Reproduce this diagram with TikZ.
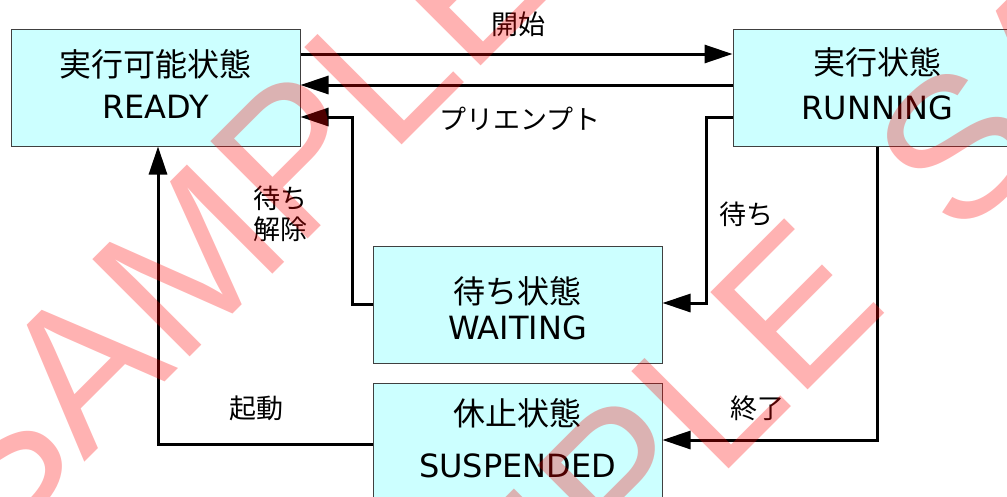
\documentclass[tikz,border=0pt]{standalone}
\usepackage{fontspec}
\setmainfont{DejaVu Sans}
\newfontfamily\jpfont{Noto Sans CJK JP}
\newfontfamily\wmfont{Liberation Sans}
\usetikzlibrary{arrows.meta,calc}
\definecolor{boxfill}{HTML}{CCFFFF}
\definecolor{boxline}{HTML}{404040}
\begin{document}
\begin{tikzpicture}[x=1pt,y=-1pt,
  statebox/.style={draw=boxline, line width=1pt, fill=boxfill, minimum width=289pt, minimum height=117pt, inner sep=0pt},
  boxtext/.style={font=\fontsize{32}{38}\selectfont, inner sep=0pt},
  jpbox/.style={font=\jpfont\fontsize{32}{38}\selectfont, inner sep=0pt},
  lbl/.style={font=\jpfont\fontsize{27}{31}\selectfont, inner sep=0pt, align=center},
  arr/.style={line width=3pt, -{Triangle[length=28pt,width=18pt]}},
  wm/.style={font=\wmfont\fontsize{200}{200}\selectfont, text=red, text opacity=0.3, inner sep=0pt, anchor=base west, rotate=45}
]
\useasboundingbox (0,0) rectangle (1007,496);
\clip (0,0) rectangle (1007,496);

% state boxes
\node[statebox] (ready) at (155.5,87.5) {};
\node[statebox] (running) at (877.5,87.5) {};
\node[statebox] (waiting) at (517.5,304.5) {};
\node[statebox] (suspended) at (517.5,441.5) {};

% box texts
\node[jpbox] (readyja) at (155.5,64) {実行可能状態};
\node[boxtext] (readyen) at (155.5,107) {READY};
\node[jpbox] (runningja) at (877.5,62) {実行状態};
\node[boxtext] (runningen) at (877.5,108) {RUNNING};
\node[jpbox] (waitingja) at (517.5,291) {待ち状態};
\node[boxtext] (waitingen) at (517.5,328) {WAITING};
\node[jpbox] (suspendedja) at (517.5,413) {休止状態};
\node[boxtext] (suspendeden) at (517.5,466) {SUSPENDED};

% connectors
\draw[arr] ($(ready.east)+(0,-33.5)$) -- ($(running.west)+(0,-33.5)$);
\draw[arr] ($(running.west)+(0,-2.5)$) -- ($(ready.east)+(0,-2.5)$);
\draw[arr] (waiting.west) -- ++(-20,0) |- ($(ready.east)+(0,29.5)$);
\draw[arr] ($(running.west)+(0,29.5)$) -- ++(-26,0) |- ($(waiting.east)+(0,-1.5)$);
\draw[arr] (running.south) |- ($(suspended.east)+(0,-1.5)$);
\draw[arr] ($(suspended.west)+(0,2.5)$) -| ($(ready.south)+(2.5,0)$);

% labels
\node[lbl] (lstart) at (518,24) {開始};
\node[lbl] (lpre) at (520,119) {プリエンプト};
\node[lbl] (lrel) at (280,214) {待ち\\解除};
\node[lbl] (lwait) at (746,214) {待ち};
\node[lbl] (lboot) at (256,408) {起動};
\node[lbl] (lend) at (757,408) {終了};

% watermark
\node[wm] (wm1) at (-10,557) {SAMPLE};
\node[wm] (wm2) at (317,881) {SAMPLE};
\node[wm] (wm3) at (959,243) {SAMPLE};
\end{tikzpicture}
\end{document}
